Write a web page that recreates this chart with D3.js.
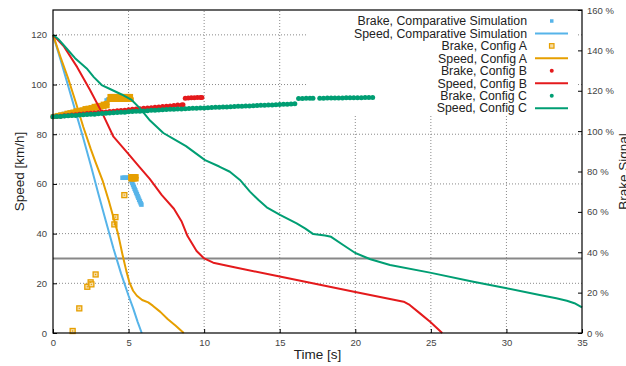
<!DOCTYPE html>
<html>
<head>
<meta charset="utf-8">
<script src="https://cdn.jsdelivr.net/npm/d3@7/dist/d3.min.js"></script>
<style>
  body { margin: 0; background: #fff; }
  svg { font-family: "Liberation Sans", Arial, sans-serif; }
</style>
</head>
<body>
<div id="chart"></div>
<script>
// speed curves [time s, speed km/h]
const speedSim = [[0,120],[0.5,110],[1,99.5],[1.5,89],[2,78.5],[2.5,67.5],[3,56],[3.5,45],[4,34],[4.5,24],[5,15],[5.3,10],[5.6,4.5],[5.87,0]];
const speedA = [[0,120],[0.5,111],[1,102.5],[1.5,93],[2,83],[2.5,74],[2.8,69],[3.3,61],[3.7,53],[4,46.5],[4.3,40],[4.6,31.5],[4.85,25],[5.05,20.5],[5.3,17],[5.55,15],[5.9,13.3],[6.3,12.3],[6.6,11],[7.1,8.5],[7.6,5.5],[8.1,3],[8.65,0]];
const speedB = [[0,120],[0.7,115.5],[1.6,107],[2.45,97.8],[3.3,88],[4,79],[4.5,75.5],[5,72],[5.7,67],[6.4,62],[7.2,55.5],[8,50],[8.5,45],[8.9,39],[9.5,33],[10,30],[10.6,28.3],[12,26.5],[15,22.7],[20,16.5],[23.2,12.6],[23.6,11.3],[24.3,7.8],[24.95,4.5],[25.75,0]];
const speedC = [[0,120],[0.4,118],[0.9,114.5],[1.46,110.6],[2.23,106.5],[2.7,103],[3.22,99.8],[3.77,98.2],[4.54,96],[5.2,93.8],[5.76,90.4],[6.42,85.5],[7.3,80.5],[8,78],[8.8,75.2],[10.06,69.6],[11,67],[11.7,64.9],[12.37,61.6],[13.03,56.9],[13.6,53.5],[14.14,50.6],[15.02,47.5],[16.12,44.1],[16.7,42],[17.22,39.8],[18,39.2],[18.4,38.7],[19.2,35.4],[20,32.2],[21,29.7],[22.3,27.4],[24.94,24.3],[27.81,20.6],[30.02,18],[32.2,15.3],[33.3,14],[34,13],[34.5,12],[35,10.3]];

// brake signals [time s, %]
const brakeSim = [[0,107.3],[0.25,107.7],[0.5,108.1],[0.75,108.5],[1,108.9],[1.25,109.3],[1.5,109.7],[1.75,110.1],[2,110.5],[2.25,110.9],[2.5,111.3],[2.75,111.7],[3,112.1],[3.25,112.5],[3.5,112.9],
  [3.55,115.2],[3.65,115.6],[3.75,115.8],[3.85,116],[3.95,115.8],
  [4.6,76.9],[4.7,76.9],[4.8,76.9],[4.9,76.9],[5,76.9],[5.1,76.9],
  [5.15,76.2],[5.2,75.2],[5.25,74.3],[5.3,73.3],[5.35,72.4],[5.4,71.4],[5.45,70.6],[5.5,69.6],[5.55,68.8],[5.6,67.8],[5.65,67],[5.7,66],[5.75,65.2],[5.8,64.3],[5.85,63.6]];
// dense part of config A brake signal
const brakeABand = [[0,107.1],[0.2,107.4],[0.4,107.7],[0.6,108],[0.8,108.3],[1,108.6],[1.2,108.9],[1.4,109.2],[1.6,109.5],[1.8,109.7],[2,110],[2.2,110.3],[2.4,110.6],[2.6,110.9],[2.8,111.2],[3,111.5],[3.2,111.8],[3.4,112.1],[3.6,112.4],
  [0.1,107.5],[0.3,107.9],[0.5,108.2],[0.7,108.5],[0.9,109],[1.1,109.3],[1.3,109.6],[1.5,110.2],[1.7,110.4],[1.9,110.7],[2.1,111.3],[2.3,111.5],[2.5,111.8],[2.7,112.4],[2.9,112.6],[3.1,112.9],[3.3,113.5],[3.5,113.8],[3.6,114],
  [3.7,115.6],[3.8,115.6],[3.9,115.6],[4,115.6],[4.1,115.6],[4.2,115.6],[4.3,115.6],[4.4,115.6],[4.5,115.6],[4.6,115.6],[4.7,115.6],[4.8,115.6],[4.9,115.6],[5,115.6],[5.1,115.6],[5.2,115.6],
  [3.75,117.3],[3.85,117.3],[3.95,117.3],[4.05,117.3],[4.15,117.3],[4.25,117.3],[4.35,117.3],[4.45,117.3],[4.55,117.3],[4.65,117.3],[4.75,117.3],[4.85,117.3],[4.95,117.3],[5.05,117.3],[5.15,117.3],
  [5.12,76.2],[5.2,76.2],[5.28,76.2],[5.36,76.2],[5.44,76.2],[5.52,76.2],
  [5.12,77.6],[5.2,77.6],[5.28,77.6],[5.36,77.6],[5.44,77.6],[5.52,77.6]];
// isolated samples of config A brake signal
const brakeAPoints = [[1.3,1],[1.74,12.2],[2.27,22.9],[2.49,25.1],[2.54,24.1],[2.82,29],[4.06,53.8],[4.13,57.4],[4.72,68.3]];
const brakeB = [[0,107.1],[0.25,107.3],[0.5,107.4],[0.75,107.6],[1,107.8],[1.25,108],[1.5,108.1],[1.75,108.3],[2,108.5],[2.25,108.7],[2.5,108.8],[2.75,109],[3,109.2],[3.25,109.4],[3.5,109.5],[3.75,109.7],[4,109.9],[4.25,110.1],[4.5,110.2],[4.75,110.4],[5,110.6],[5.25,110.8],[5.5,110.9],[5.75,111.1],[6,111.3],[6.25,111.5],[6.5,111.6],[6.75,111.8],[7,112],[7.25,112.2],[7.5,112.3],[7.75,112.5],[8,112.7],[8.25,112.9],[8.5,113],[8.6,113.1],
  [8.75,116.3],[8.95,116.4],[9.15,116.5],[9.35,116.5],[9.55,116.6],[9.75,116.7],[9.85,116.7]];
const brakeC = [[0,107.1],[0.25,107.2],[0.5,107.3],[0.75,107.5],[1,107.6],[1.25,107.7],[1.5,107.8],[1.75,108],[2,108.1],[2.25,108.2],[2.5,108.3],[2.75,108.4],[3,108.6],[3.25,108.7],[3.5,108.8],[3.75,109],[4,109.1],[4.25,109.2],[4.5,109.3],[4.75,109.4],[5,109.6],[5.25,109.7],[5.5,109.8],[5.75,109.9],[6,110],[6.25,110.1],[6.5,110.3],[6.75,110.4],[7,110.5],[7.25,110.6],[7.5,110.7],[7.75,110.8],[8,110.8],[8.25,110.9],[8.5,111],[8.75,111.1],[9,111.2],[9.25,111.3],[9.5,111.3],[9.75,111.4],[10,111.5],[10.25,111.6],[10.5,111.7],[10.75,111.8],[11,111.8],[11.25,111.9],[11.5,112],[11.75,112.1],[12,112.2],[12.25,112.3],[12.5,112.3],[12.75,112.4],[13,112.5],[13.25,112.6],[13.5,112.7],[13.75,112.8],[14,112.8],[14.25,112.9],[14.5,113],[14.75,113.1],[15,113.2],[15.25,113.3],[15.5,113.3],[15.75,113.4],[16,113.5],
  [16.25,116.2],[16.5,116.2],[16.75,116.3],[17,116.3],[17.2,116.3],
  [17.65,116.3],[17.9,116.3],[18.15,116.4],[18.4,116.4],[18.65,116.4],[18.9,116.4],[19.15,116.4],[19.4,116.5],[19.65,116.5],[19.9,116.5],[20.15,116.5],[20.4,116.5],[20.65,116.6],[20.9,116.6],[21.15,116.6]];

const xTicks = [0, 5, 10, 15, 20, 25, 30, 35];
const yTicks = [0, 20, 40, 60, 80, 100, 120];
const y2Ticks = [0, 20, 40, 60, 80, 100, 120, 140, 160];
const threshold = 30;

const colBlue = '#56B4E9', colOrange = '#E69F00', colRed = '#E41A1C', colGreen = '#009E73';

const width = 626, height = 366;
const margin = { top: 10, right: 44, bottom: 33, left: 53 };

const svg = d3.select('#chart').append('svg')
  .attr('width', width)
  .attr('height', height);

const x = d3.scaleLinear().domain([0, 35]).range([margin.left, width - margin.right]);
const y = d3.scaleLinear().domain([0, 130]).range([height - margin.bottom, margin.top]);
const y2 = d3.scaleLinear().domain([0, 160]).range([height - margin.bottom, margin.top]);

// grid
const grid = svg.append('g').attr('stroke', '#8a8a8a').attr('stroke-width', 1).attr('stroke-dasharray', '1,2');
grid.selectAll('.gx').data(xTicks.slice(1, -1)).join('line')
  .attr('x1', d => x(d)).attr('x2', d => x(d))
  .attr('y1', y(0)).attr('y2', y(130));
grid.selectAll('.gy').data(yTicks.slice(1)).join('line')
  .attr('x1', x(0)).attr('x2', x(35))
  .attr('y1', d => y(d)).attr('y2', d => y(d));

// legend background covers the grid
const legX0 = 308, legX1 = 577, legY0 = 11, legY1 = 115;
svg.append('rect').attr('x', legX0).attr('y', legY0)
  .attr('width', legX1 - legX0).attr('height', legY1 - legY0).attr('fill', '#fff');

// threshold line
svg.append('line')
  .attr('x1', x(0)).attr('x2', x(35))
  .attr('y1', y(threshold)).attr('y2', y(threshold))
  .attr('stroke', '#888').attr('stroke-width', 2);

const line = d3.line().x(d => x(d[0])).y(d => y(d[1]));

function drawSquares(data, color, size) {
  svg.append('g').selectAll('rect').data(data).join('rect')
    .attr('x', d => x(d[0]) - size / 2)
    .attr('y', d => y2(d[1]) - size / 2)
    .attr('width', size).attr('height', size)
    .attr('fill', color);
}
function drawOpenSquares(data, color, size) {
  const g = svg.append('g');
  g.selectAll('rect').data(data).join('rect')
    .attr('x', d => x(d[0]) - size / 2)
    .attr('y', d => y2(d[1]) - size / 2)
    .attr('width', size).attr('height', size)
    .attr('fill', '#f6dca4').attr('stroke', color).attr('stroke-width', 1.3);
  g.selectAll('circle').data(data).join('circle')
    .attr('cx', d => x(d[0])).attr('cy', d => y2(d[1])).attr('r', 0.7)
    .attr('fill', color);
}
function drawDots(data, color, r) {
  svg.append('g').selectAll('circle').data(data).join('circle')
    .attr('cx', d => x(d[0]))
    .attr('cy', d => y2(d[1]))
    .attr('r', r)
    .attr('fill', color);
}
function drawLine(data, color) {
  svg.append('path').datum(data)
    .attr('d', line)
    .attr('fill', 'none')
    .attr('stroke', color)
    .attr('stroke-width', 2)
    .attr('stroke-linejoin', 'round');
}

drawSquares(brakeSim, colBlue, 4.5);
drawLine(speedSim, colBlue);
drawSquares(brakeABand, colOrange, 4.5);
drawOpenSquares(brakeAPoints, colOrange, 5);
drawLine(speedA, colOrange);
drawDots(brakeB, colRed, 2.5);
drawLine(speedB, colRed);
drawDots(brakeC, colGreen, 2.5);
drawLine(speedC, colGreen);

// border
svg.append('rect')
  .attr('x', x(0)).attr('y', y(130))
  .attr('width', x(35) - x(0)).attr('height', y(0) - y(130))
  .attr('fill', 'none').attr('stroke', '#000').attr('stroke-width', 1.2);

// axes
function styleAxis(g) {
  g.select('.domain').remove();
  g.selectAll('.tick line').attr('stroke', '#000');
  g.selectAll('.tick text').attr('fill', '#444').style('font-size', '9.5px');
}
svg.append('g')
  .attr('transform', `translate(0,${y(0)})`)
  .call(d3.axisBottom(x).tickValues(xTicks).tickSize(-4).tickPadding(6))
  .call(styleAxis);
svg.append('g')
  .attr('transform', `translate(${x(0)},0)`)
  .call(d3.axisLeft(y).tickValues(yTicks).tickSize(-4).tickPadding(6))
  .call(styleAxis);
svg.append('g')
  .attr('transform', `translate(${x(35)},0)`)
  .call(d3.axisRight(y2).tickValues(y2Ticks).tickSize(-4).tickPadding(5).tickFormat(d => d + ' %'))
  .call(styleAxis);

// axis titles
svg.append('text').attr('x', (x(0) + x(35)) / 2).attr('y', 359)
  .attr('text-anchor', 'middle').style('font-size', '13.5px').attr('fill', '#222')
  .text('Time [s]');
svg.append('text').attr('transform', `translate(24,${(y(0) + y(130)) / 2}) rotate(-90)`)
  .attr('text-anchor', 'middle').style('font-size', '13.5px').attr('fill', '#222')
  .text('Speed [km/h]');
svg.append('text').attr('transform', `translate(628,${(y(0) + y(130)) / 2}) rotate(-90)`)
  .attr('text-anchor', 'middle').style('font-size', '13.5px').attr('fill', '#222')
  .text('Brake Signal');

// legend
const legendItems = [
  { label: 'Brake, Comparative Simulation', type: 'sq', color: colBlue },
  { label: 'Speed, Comparative Simulation', type: 'line', color: colBlue },
  { label: 'Brake, Config A', type: 'osq', color: colOrange },
  { label: 'Speed, Config A', type: 'line', color: colOrange },
  { label: 'Brake, Config B', type: 'dot', color: colRed },
  { label: 'Speed, Config B', type: 'line', color: colRed },
  { label: 'Brake, Config C', type: 'dot', color: colGreen },
  { label: 'Speed, Config C', type: 'line', color: colGreen }
];
const leg = svg.append('g');
legendItems.forEach((d, i) => {
  const cy = 21 + i * 12.45;
  leg.append('text').attr('x', 527).attr('y', cy).attr('dy', '0.35em')
    .attr('text-anchor', 'end').style('font-size', '12.3px').attr('fill', '#222')
    .text(d.label);
  if (d.type === 'line') {
    leg.append('line').attr('x1', 535).attr('x2', 568).attr('y1', cy).attr('y2', cy)
      .attr('stroke', d.color).attr('stroke-width', 2);
  } else if (d.type === 'sq') {
    leg.append('rect').attr('x', 550).attr('y', cy - 1.75).attr('width', 3.5).attr('height', 3.5).attr('fill', d.color);
  } else if (d.type === 'osq') {
    leg.append('rect').attr('x', 549.5).attr('y', cy - 2.25).attr('width', 4.5).attr('height', 4.5)
      .attr('fill', '#f6dca4').attr('stroke', d.color).attr('stroke-width', 1.2);
  } else {
    leg.append('circle').attr('cx', 551.75).attr('cy', cy).attr('r', 2).attr('fill', d.color);
  }
});
</script>
</body>
</html>
